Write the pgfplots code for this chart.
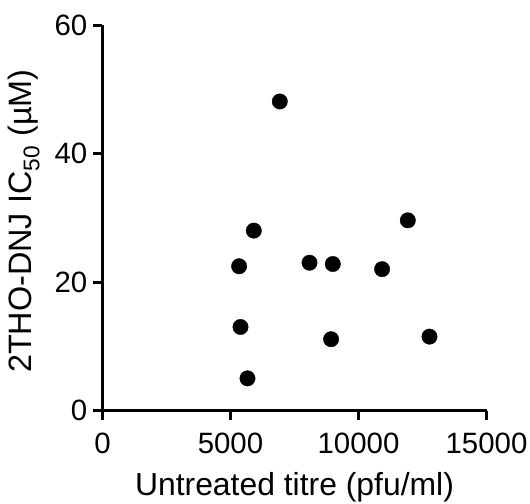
\documentclass[border=0pt]{standalone}
\usepackage{pgfplots}
\pgfplotsset{compat=1.18}
\usepackage{fontspec}
\setmainfont{Liberation Sans}
\begin{document}
\begin{tikzpicture}
\begin{axis}[
  scale only axis,
  width=384bp, height=385.5bp,
  xmin=0, xmax=15000, ymin=0, ymax=60,
  axis x line*=bottom, axis y line*=left,
  axis line style={line width=3bp, black},
  every tick/.style={line width=3bp, black},
  tick align=outside,
  major tick length=9.5bp,
  xtick={0,5000,10000,15000},
  ytick={0,20,40,60},
  minor tick num=0,
  scaled x ticks=false,
  /pgf/number format/assume math mode=true,
  /pgf/number format/1000 sep={},
  tick label style={font=\fontsize{29.5}{34}\selectfont, inner sep=0pt},
  xticklabel style={anchor=base, yshift=-33bp},
  yticklabel style={anchor=east, xshift=-5.5bp},
  label style={inner sep=0pt},
  xlabel={Untreated titre (pfu/ml)},
  ylabel={2THO-DNJ IC\textsubscript{50} (µM)},
  xlabel style={font=\fontsize{32}{36}\selectfont, at={([yshift=-84.5bp]axis description cs:0.5,0)}, anchor=base},
  ylabel style={font=\fontsize{32.5}{36}\selectfont, at={([xshift=-70.5bp,yshift=-3.5bp]axis description cs:0,0.5)}, anchor=base},
  clip=false,
]
\addplot[only marks, mark=*, mark size=7.7bp, mark options={fill=black, draw=black}] coordinates {
(6926,48.1)
(5910,28.0)
(5336,22.45)
(5391,13.0)
(5664,5.0)
(8086,23.0)
(8996,22.8)
(8930,11.1)
(10922,22.0)
(11926,29.6)
(12773,11.5)
};
\coordinate (O) at (axis cs:0,0);
\end{axis}
\pgfresetboundingbox
\path (O) ++(-102.5bp,-93.5bp) rectangle ++(530bp,504bp);
\end{tikzpicture}
\end{document}
